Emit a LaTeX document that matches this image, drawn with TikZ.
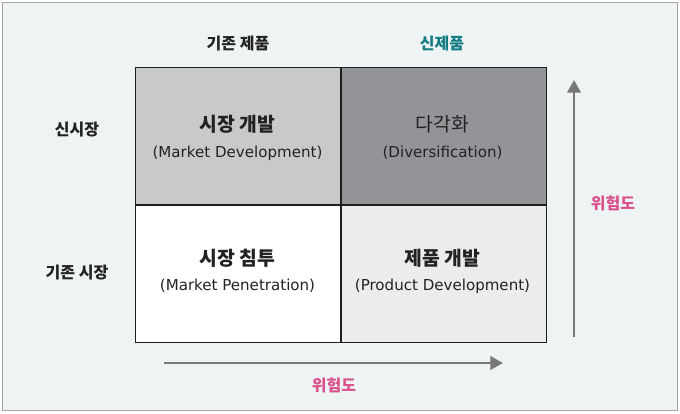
\documentclass[tikz,border=0pt]{standalone}
\usepackage{fontspec}
\setmainfont{Noto Sans CJK KR}
\newfontfamily\latinsub{DejaVu Sans}
\usetikzlibrary{arrows.meta, positioning}
\definecolor{bgframe}{RGB}{238,243,243}
\definecolor{framegray}{RGB}{165,165,165}
\definecolor{cellmd}{RGB}{200,201,203}
\definecolor{celldv}{RGB}{147,148,152}
\definecolor{cellpd}{RGB}{235,236,236}
\definecolor{riskpink}{RGB}{218,80,140}
\definecolor{newteal}{RGB}{18,124,128}
\definecolor{textdark}{RGB}{34,34,34}
\definecolor{arrowgray}{RGB}{120,120,120}

\begin{document}
\begin{tikzpicture}[x=0.75pt,y=0.75pt,yscale=-1,xscale=1]
\path[use as bounding box] (0,0) rectangle (680,413);
\tikzset{
  cell/.style={draw={rgb,255:red,30;green,30;blue,30}, line width=0.9, minimum width=153.75pt, minimum height=102.75pt, inner sep=0pt},
  title/.style={inner sep=0.75pt, text=textdark, font=\fontsize{14.5}{16}\selectfont\bfseries},
  subtitle/.style={inner sep=0.75pt, text=textdark, font=\latinsub\fontsize{11.3}{13}\selectfont},
  axislabel/.style={inner sep=0.75pt, text=textdark, font=\fontsize{12}{14}\selectfont\bfseries},
  risk/.style={inner sep=0.75pt, text=riskpink, font=\fontsize{12}{14}\selectfont\bfseries},
  riskarrow/.style={draw=arrowgray, line width=2.2, -{Triangle[length=9.5pt,width=10pt]}}
}

%Frame
\draw [color=framegray, fill=bgframe, line width=0.75] (2.5,2.5) rectangle (677,410.5) ;

%Cells
\node [cell, fill=cellmd, anchor=north west] (md) at (135,67) {};
\node [cell, fill=celldv, anchor=north west] (dv) at (md.north east) {};
\node [cell, fill=white, anchor=north west] (mp) at (md.south west) {};
\node [cell, fill=cellpd, anchor=north west] (pd) at (mp.north east) {};

% Text Node
\node [title] (mdT) at (237.5,124) {시장 개발};
% Text Node
\node [subtitle] (mdS) at (237.5,153) {(Market Development)};
% Text Node
\node [title, font=\fontsize{14.5}{16}\selectfont] (dvT) at (442.5,124) {다각화};
% Text Node
\node [subtitle] (dvS) at (442.5,153) {(Diversification)};
% Text Node
\node [title] (mpT) at (237.5,258) {시장 침투};
% Text Node
\node [subtitle] (mpS) at (237.5,286) {(Market Penetration)};
% Text Node
\node [title] (pdT) at (442.5,258) {제품 개발};
% Text Node
\node [subtitle] (pdS) at (442.5,286) {(Product Development)};

% Text Node
\node [axislabel] (oldProd) at (238,44) {기존 제품};
% Text Node
\node [axislabel, text=newteal] (newProd) at (442,44) {신제품};
% Text Node
\node [axislabel] (newMkt) at (77,130) {신시장};
% Text Node
\node [axislabel] (oldMkt) at (77,273) {기존 시장};

%Risk arrows
\coordinate (hStart) at (164,363);
\coordinate (hEnd) at (503,363);
\coordinate (vStart) at (574,337);
\coordinate (vEnd) at (574,80);
\draw [riskarrow] (hStart) -- (hEnd) ;
\draw [riskarrow] (vStart) -- (vEnd) ;

% Text Node
\node [risk] (riskH) at (334,385) {위험도};
% Text Node
\node [risk] (riskV) at (613,203) {위험도};

\end{tikzpicture}
\end{document}
